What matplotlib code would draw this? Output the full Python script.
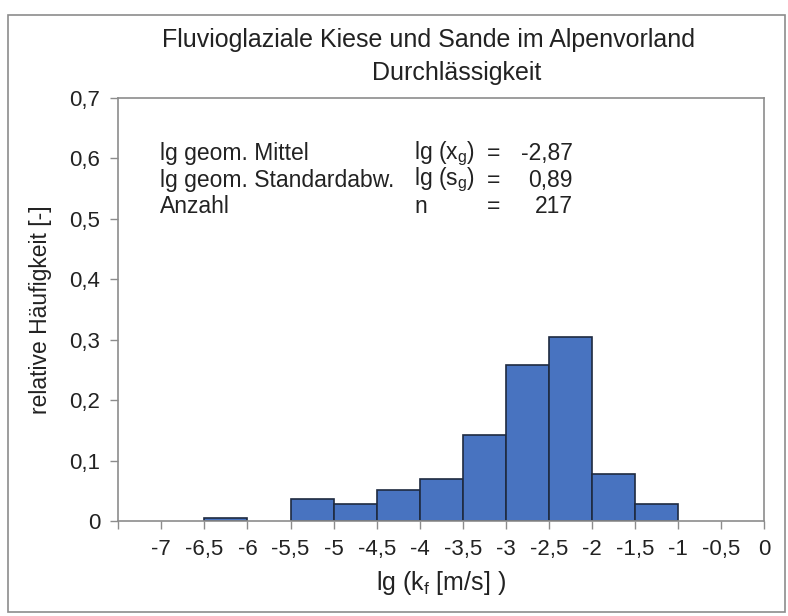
import matplotlib
matplotlib.use("Agg")
import matplotlib.pyplot as plt
from matplotlib.patches import Rectangle

plt.rcParams["font.family"] = ["Liberation Sans", "DejaVu Sans"]
plt.rcParams["mathtext.fontset"] = "custom"
plt.rcParams["mathtext.rm"] = "Liberation Sans"
plt.rcParams["mathtext.it"] = "Liberation Sans"

# Klassen (linke Grenze, Breite 0,5) und relative Häufigkeiten
bin_left = [-6.5, -5.5, -5.0, -4.5, -4.0, -3.5, -3.0, -2.5, -2.0, -1.5]
rel_freq = [0.005, 0.037, 0.028, 0.051, 0.069, 0.143, 0.258, 0.304, 0.078, 0.028]
bin_width = 0.5

x_ticks = [-7.5, -7, -6.5, -6, -5.5, -5, -4.5, -4, -3.5, -3, -2.5, -2, -1.5, -1, -0.5, 0]
x_labels = ["", "-7", "-6,5", "-6", "-5,5", "-5", "-4,5", "-4", "-3,5", "-3",
            "-2,5", "-2", "-1,5", "-1", "-0,5", "0"]
y_ticks = [0, 0.1, 0.2, 0.3, 0.4, 0.5, 0.6, 0.7]
y_labels = ["0", "0,1", "0,2", "0,3", "0,4", "0,5", "0,6", "0,7"]

stat_names = ["lg geom. Mittel", "lg geom. Standardabw.", "Anzahl"]
stat_symbols = ["lg (x$_\\mathrm{g}$)", "lg (s$_\\mathrm{g}$)", "n"]
stat_values = ["-2,87", "0,89", "217"]

grey = "#8c8c8c"
txt = "#222222"

fig = plt.figure(figsize=(7.88, 6.16), dpi=100)
ax = fig.add_axes([0.150, 0.154, 0.820, 0.687])

ax.bar(bin_left, rel_freq, width=bin_width, align="edge",
       color="#4873c0", edgecolor="#1e2a40", linewidth=1.2)

ax.set_xlim(-7.5, 0)
ax.set_ylim(0, 0.7)
ax.set_xticks(x_ticks)
ax.set_xticklabels(x_labels)
ax.set_yticks(y_ticks)
ax.set_yticklabels(y_labels)
ax.tick_params(axis="both", colors=grey, labelcolor=txt, labelsize=16,
               length=6, width=1)
ax.tick_params(axis="x", pad=7)
ax.tick_params(axis="y", pad=7)
for sp in ax.spines.values():
    sp.set_color(grey)
    sp.set_linewidth(1.2)

ax.set_xlabel("lg (k$_\\mathrm{f}$ [m/s] )", fontsize=18, color=txt, labelpad=6)
ax.set_ylabel("relative Häufigkeit [-]", fontsize=16.5, color=txt, labelpad=12)

fig.text(429 / 788, 1 - 40 / 616, "Fluvioglaziale Kiese und Sande im Alpenvorland",
         ha="center", va="center", fontsize=18, color=txt)
fig.text(457 / 788, 1 - 73 / 616, "Durchlässigkeit",
         ha="center", va="center", fontsize=18, color=txt)

row_y = [0.868, 0.806, 0.744]
for yy, name, sym, val in zip(row_y, stat_names, stat_symbols, stat_values):
    ax.text(0.065, yy, name, transform=ax.transAxes, fontsize=16.5,
            va="center", color=txt)
    ax.text(0.458, yy, sym, transform=ax.transAxes, fontsize=16.5,
            va="center", color=txt)
    ax.text(0.581, yy, "=", transform=ax.transAxes, fontsize=16.5,
            va="center", ha="center", color=txt)
    ax.text(0.704, yy, val, transform=ax.transAxes, fontsize=16.5,
            va="center", ha="right", color=txt)

# äußerer Diagrammrahmen
fig.patches.append(Rectangle((8 / 788, 1 - 612 / 616), 777 / 788, 597 / 616,
                             transform=fig.transFigure, fill=False,
                             edgecolor=grey, linewidth=1.2))

fig.savefig("out.png", dpi=100)
